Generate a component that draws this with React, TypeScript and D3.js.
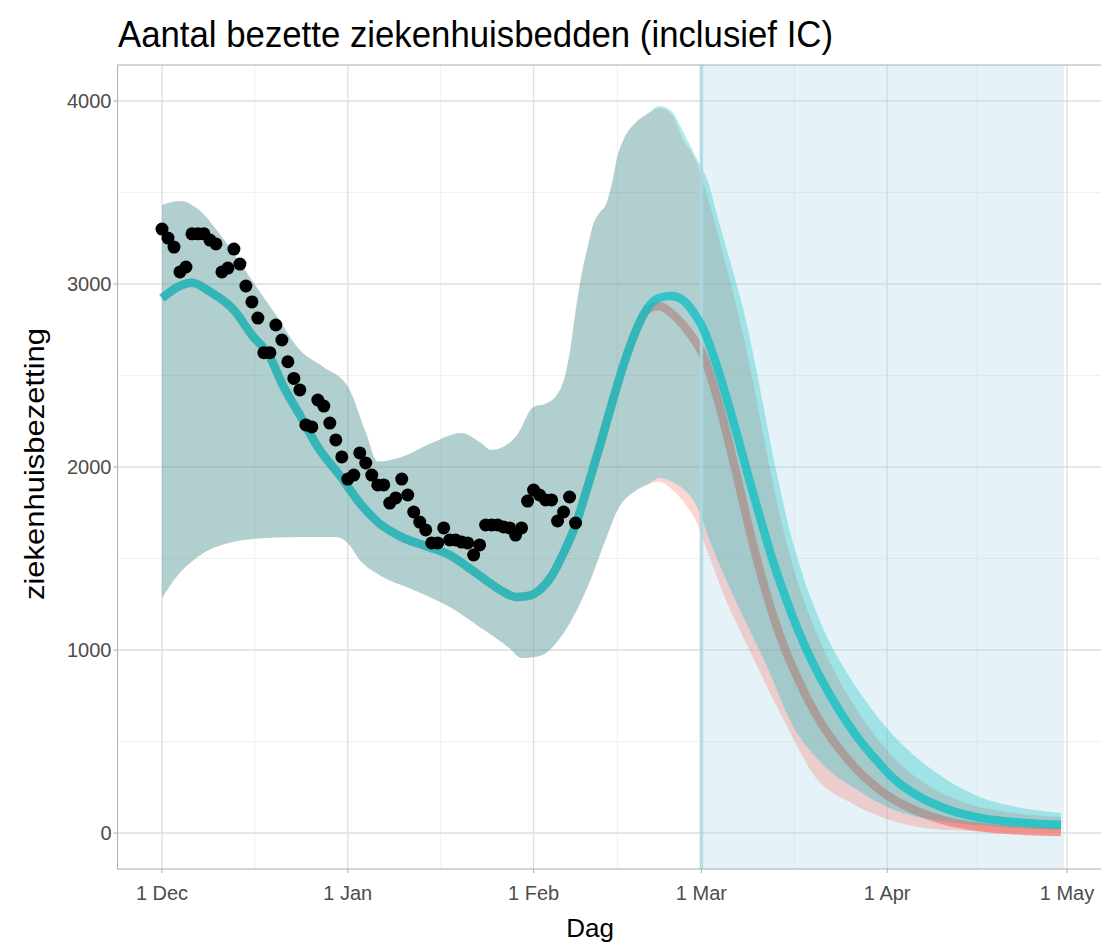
import React from "react";
import * as d3 from "d3";

type P = [string, number];

const TITLE = "Aantal bezette ziekenhuisbedden (inclusief IC)";
const X_TITLE = "Dag";
const Y_TITLE = "ziekenhuisbezetting";

const xTickDates = ["2020-12-01", "2021-01-01", "2021-02-01", "2021-03-01", "2021-04-01", "2021-05-01"];
const xTickLabels = ["1 Dec", "1 Jan", "1 Feb", "1 Mar", "1 Apr", "1 May"];
const yTicks = [0, 1000, 2000, 3000, 4000];
const yMinor = [500, 1500, 2500, 3500];

const obsStart = "2020-12-01";
const obsValues = [3300, 3251, 3202, 3066, 3093, 3274, 3274, 3274, 3240, 3219, 3066, 3087, 3191, 3109, 2989, 2902, 2814, 2625, 2625, 2776, 2694, 2575, 2484, 2421, 2230, 2219, 2366, 2333, 2240, 2148, 2055, 1934, 1956, 2077, 2022, 1956, 1902, 1902, 1803, 1831, 1934, 1847, 1754, 1699, 1656, 1585, 1585, 1667, 1601, 1601, 1590, 1585, 1519, 1574, 1683, 1683, 1683, 1672, 1667, 1628, 1667, 1814, 1874, 1847, 1820, 1820, 1705, 1754, 1836, 1694];

const lineShared: P[] = [
  ["2020-12-01", 2923], ["2020-12-04", 2990], ["2020-12-06", 3007], ["2020-12-09", 2958], ["2020-12-13", 2858],
  ["2020-12-16", 2721], ["2020-12-19", 2603], ["2020-12-21", 2457], ["2020-12-24", 2284], ["2020-12-27", 2109],
  ["2020-12-31", 1940], ["2021-01-03", 1803], ["2021-01-06", 1699], ["2021-01-10", 1617], ["2021-01-14", 1568],
  ["2021-01-18", 1519], ["2021-01-21", 1454], ["2021-01-24", 1383], ["2021-01-27", 1317], ["2021-01-29", 1290],
  ["2021-01-31", 1295], ["2021-02-02", 1328], ["2021-02-04", 1404], ["2021-02-06", 1530], ["2021-02-08", 1683],
  ["2021-02-10", 1891], ["2021-02-12", 2109], ["2021-02-14", 2339], ["2021-02-16", 2557], ["2021-02-18", 2738],
];
const lineTailA: P[] = [
  ["2021-02-20", 2860], ["2021-02-22", 2880], ["2021-02-24", 2840], ["2021-02-26", 2775], ["2021-02-28", 2685],
  ["2021-03-01", 2630], ["2021-03-03", 2450], ["2021-03-05", 2210], ["2021-03-07", 1940], ["2021-03-09", 1660],
  ["2021-03-11", 1405], ["2021-03-13", 1185], ["2021-03-15", 1000], ["2021-03-17", 850], ["2021-03-19", 715],
  ["2021-03-21", 600], ["2021-03-24", 460], ["2021-03-27", 345], ["2021-03-30", 255], ["2021-04-02", 185],
  ["2021-04-06", 120], ["2021-04-11", 65], ["2021-04-17", 30], ["2021-04-23", 14], ["2021-04-30", 5],
];
const lineTailB: P[] = [
  ["2021-02-20", 2869], ["2021-02-22", 2925], ["2021-02-24", 2934], ["2021-02-26", 2910], ["2021-02-28", 2830],
  ["2021-03-01", 2776], ["2021-03-03", 2610], ["2021-03-05", 2400], ["2021-03-07", 2170], ["2021-03-09", 1930],
  ["2021-03-11", 1700], ["2021-03-13", 1480], ["2021-03-15", 1290], ["2021-03-17", 1120], ["2021-03-19", 970],
  ["2021-03-21", 840], ["2021-03-24", 670], ["2021-03-27", 525], ["2021-03-30", 405], ["2021-04-02", 300],
  ["2021-04-06", 205], ["2021-04-11", 130], ["2021-04-17", 80], ["2021-04-23", 58], ["2021-04-30", 45],
];

const upperShared: P[] = [
  ["2020-12-01", 3432], ["2020-12-04", 3454], ["2020-12-07", 3410], ["2020-12-11", 3257], ["2020-12-16", 3020],
  ["2020-12-20", 2830], ["2020-12-24", 2639], ["2020-12-28", 2545], ["2021-01-01", 2440], ["2021-01-04", 2190],
  ["2021-01-06", 2030], ["2021-01-10", 2055], ["2021-01-15", 2131], ["2021-01-20", 2186], ["2021-01-23", 2137],
  ["2021-01-25", 2093], ["2021-01-29", 2164], ["2021-02-01", 2328], ["2021-02-03", 2345], ["2021-02-05", 2400],
  ["2021-02-06", 2470], ["2021-02-07", 2620], ["2021-02-08", 2850], ["2021-02-09", 3050], ["2021-02-10", 3200],
  ["2021-02-11", 3330], ["2021-02-12", 3390], ["2021-02-13", 3430], ["2021-02-14", 3540], ["2021-02-15", 3700],
  ["2021-02-16", 3790], ["2021-02-18", 3880], ["2021-02-20", 3930],
];
const upperTailA: P[] = [
  ["2021-02-22", 3962], ["2021-02-24", 3930], ["2021-02-26", 3790], ["2021-02-28", 3680], ["2021-03-02", 3480],
  ["2021-03-04", 3240], ["2021-03-06", 2990], ["2021-03-08", 2720], ["2021-03-10", 2400], ["2021-03-12", 2060],
  ["2021-03-14", 1750], ["2021-03-16", 1490], ["2021-03-18", 1280], ["2021-03-20", 1110], ["2021-03-22", 960],
  ["2021-03-24", 835], ["2021-03-28", 620], ["2021-04-01", 450], ["2021-04-06", 300], ["2021-04-14", 165],
  ["2021-04-22", 110], ["2021-04-30", 87],
];
const upperTailB: P[] = [
  ["2021-02-22", 3973], ["2021-02-24", 3945], ["2021-02-26", 3830], ["2021-02-28", 3700], ["2021-03-02", 3568],
  ["2021-03-04", 3330], ["2021-03-06", 3100], ["2021-03-08", 2860], ["2021-03-10", 2560], ["2021-03-12", 2220],
  ["2021-03-14", 1900], ["2021-03-16", 1620], ["2021-03-18", 1400], ["2021-03-20", 1220], ["2021-03-22", 1070],
  ["2021-03-24", 945], ["2021-03-28", 740], ["2021-04-01", 570], ["2021-04-06", 410], ["2021-04-11", 290],
  ["2021-04-17", 190], ["2021-04-23", 140], ["2021-04-30", 109],
];
const lowerShared: P[] = [
  ["2020-12-01", 1283], ["2020-12-03", 1383], ["2020-12-07", 1510], ["2020-12-13", 1592], ["2020-12-16", 1607],
  ["2020-12-24", 1617], ["2020-12-30", 1618], ["2021-01-01", 1585], ["2021-01-03", 1492], ["2021-01-06", 1415],
  ["2021-01-12", 1328], ["2021-01-18", 1235], ["2021-01-23", 1126], ["2021-01-28", 1010], ["2021-01-30", 956],
  ["2021-02-02", 967], ["2021-02-06", 1093], ["2021-02-10", 1344], ["2021-02-13", 1601], ["2021-02-15", 1765],
  ["2021-02-18", 1870], ["2021-02-20", 1905],
];
const lowerTailA: P[] = [
  ["2021-02-22", 1920], ["2021-02-24", 1880], ["2021-02-26", 1810], ["2021-02-28", 1710], ["2021-03-02", 1540],
  ["2021-03-05", 1280], ["2021-03-09", 1000], ["2021-03-15", 601], ["2021-03-20", 306], ["2021-03-26", 164],
  ["2021-03-31", 87], ["2021-04-11", 16], ["2021-04-30", 0],
];
const lowerTailB: P[] = [
  ["2021-02-22", 1940], ["2021-02-24", 1920], ["2021-02-26", 1880], ["2021-02-28", 1800], ["2021-03-03", 1546],
  ["2021-03-08", 1180], ["2021-03-12", 907], ["2021-03-16", 601], ["2021-03-21", 383], ["2021-03-27", 235],
  ["2021-04-01", 142], ["2021-04-09", 71], ["2021-04-30", 16],
];

const bandStart = "2021-03-01";
const bandEnd = "2021-04-30";

const COL_A = "#F8766D";
const COL_B = "#00BFC4";
const FONT = "'Liberation Sans', Arial, Helvetica, sans-serif";

const parse = d3.utcParse("%Y-%m-%d");

export default function App() {
  const W = 1101, H = 945;
  const x = d3.scaleUtc().domain([parse("2020-12-01")!, parse("2021-04-30")!]).range([162, 1061]);
  const y = d3.scaleLinear().domain([0, 4000]).range([833, 101]);
  const panel = { left: 117.5, right: 1106, top: 65, bottom: 869 };

  const toPts = (arr: P[]) => arr.map(([d, v]) => [x(parse(d)!), y(v)] as [number, number]);
  const lineGen = d3.line<[number, number]>().x((d) => d[0]).y((d) => d[1]).curve(d3.curveMonotoneX);

  const ribbon = (upper: P[], lower: P[]) => {
    const up = lineGen(toPts(upper)) as string;
    const lo = lineGen(toPts(lower).slice().reverse()) as string;
    return up + "L" + lo.slice(1) + "Z";
  };

  const ribbonA = ribbon([...upperShared, ...upperTailA], [...lowerShared, ...lowerTailA]);
  const ribbonB = ribbon([...upperShared, ...upperTailB], [...lowerShared, ...lowerTailB]);
  const lineA = lineGen(toPts([...lineShared, ...lineTailA])) as string;
  const lineB = lineGen(toPts([...lineShared, ...lineTailB])) as string;

  const tickX = xTickDates.map((d) => x(parse(d)!));
  const minorX = tickX.slice(0, -1).map((t, i) => (t + tickX[i + 1]) / 2);
  const start = parse(obsStart)!;
  const obs = obsValues.map((v, i) => ({ cx: x(d3.utcDay.offset(start, i)), cy: y(v) }));

  const bx0 = x(parse(bandStart)!);
  const bx1 = x(parse(bandEnd)!) + 3;

  return (
    <svg width={W} height={H} style={{ position: "absolute", left: 0, top: 0, background: "#fff" }} fontFamily={FONT}>
      <rect x={0} y={0} width={W} height={H} fill="#fff" />
      <defs>
        <clipPath id="panel">
          <rect x={panel.left} y={panel.top} width={panel.right - panel.left} height={panel.bottom - panel.top} />
        </clipPath>
      </defs>
      {yMinor.map((v) => (
        <line key={"ym" + v} x1={panel.left} x2={panel.right} y1={y(v)} y2={y(v)} stroke="#ececec" strokeWidth={0.8} />
      ))}
      {minorX.map((v, i) => (
        <line key={"xm" + i} x1={v} x2={v} y1={panel.top} y2={panel.bottom} stroke="#ececec" strokeWidth={0.8} />
      ))}
      {yTicks.map((v) => (
        <line key={"yg" + v} x1={panel.left} x2={panel.right} y1={y(v)} y2={y(v)} stroke="#dedede" strokeWidth={1.3} />
      ))}
      {tickX.map((v, i) => (
        <line key={"xg" + i} x1={v} x2={v} y1={panel.top} y2={panel.bottom} stroke="#dedede" strokeWidth={1.3} />
      ))}
      <g clipPath="url(#panel)">
        <rect x={bx0} y={panel.top} width={bx1 - bx0} height={panel.bottom - panel.top} fill="#ADD8E6" fillOpacity={0.32} />
        <path d={ribbonA} fill={COL_A} fillOpacity={0.3} />
        <path d={lineA} fill="none" stroke={COL_A} strokeOpacity={0.7} strokeWidth={8.5} />
        <path d={ribbonB} fill={COL_B} fillOpacity={0.3} />
        <line x1={bx0} x2={bx0} y1={panel.top} y2={panel.bottom} stroke="#ADD8E6" strokeWidth={3.5} strokeOpacity={0.85} />
        <path d={lineB} fill="none" stroke={COL_B} strokeOpacity={0.7} strokeWidth={8.5} />
        {obs.map((o, i) => (
          <circle key={i} cx={o.cx} cy={o.cy} r={6.5} fill="#000" />
        ))}
      </g>
      <rect x={panel.left} y={panel.top} width={panel.right - panel.left} height={panel.bottom - panel.top} fill="none" stroke="#b3b3b3" strokeWidth={1.1} />
      {yTicks.map((v) => (
        <g key={"yt" + v}>
          <line x1={panel.left - 4} x2={panel.left} y1={y(v)} y2={y(v)} stroke="#b3b3b3" strokeWidth={1.1} />
          <text x={panel.left - 6} y={y(v)} dy="0.36em" textAnchor="end" fontSize={20} fill="#4d4d4d">{v}</text>
        </g>
      ))}
      {tickX.map((v, i) => (
        <g key={"xt" + i}>
          <line x1={v} x2={v} y1={panel.bottom} y2={panel.bottom + 4} stroke="#b3b3b3" strokeWidth={1.1} />
          <text x={v} y={panel.bottom + 31} textAnchor="middle" fontSize={20} fill="#4d4d4d">{xTickLabels[i]}</text>
        </g>
      ))}
      <text x={118} y={47} fontSize={37} fill="#000" textLength={715} lengthAdjust="spacingAndGlyphs">{TITLE}</text>
      <text x={590} y={937} textAnchor="middle" fontSize={26} fill="#000">{X_TITLE}</text>
      <text transform={`translate(44,${464}) rotate(-90)`} textAnchor="middle" fontSize={27} fill="#000" textLength={272} lengthAdjust="spacingAndGlyphs">{Y_TITLE}</text>
    </svg>
  );
}
